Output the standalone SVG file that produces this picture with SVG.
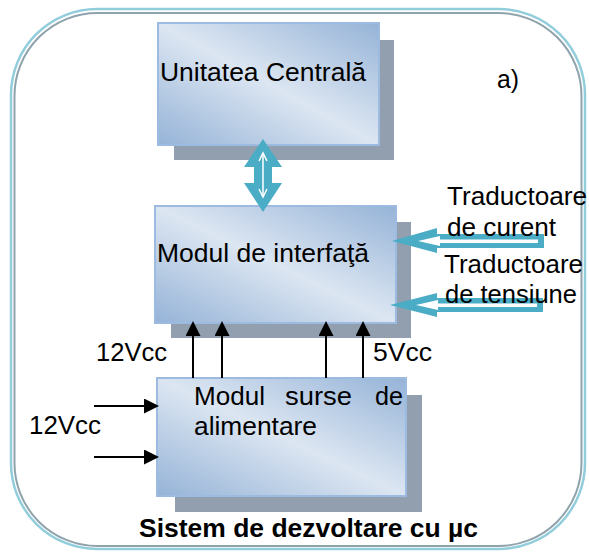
<svg xmlns="http://www.w3.org/2000/svg" width="589" height="552" viewBox="0 0 589 552">
<defs>
<linearGradient id="boxg" x1="0" y1="1" x2="1" y2="0">
<stop offset="0" stop-color="#95b3d7"/>
<stop offset="0.5" stop-color="#dce6f2"/>
<stop offset="1" stop-color="#95b3d7"/>
</linearGradient>
<marker id="ah" markerUnits="userSpaceOnUse" markerWidth="15" markerHeight="15" viewBox="0 0 15 15" refX="13" refY="7.5" orient="auto">
<path d="M0,0 L15,7.5 L0,15 z" fill="#000"/>
</marker>
<style>
.shadow{fill:#919fae}
.box{fill:url(#boxg);stroke:#9dbbe0;stroke-width:2}
.t{font-family:"Liberation Sans",Arial,sans-serif;font-size:25.5px;fill:#000}
.b{font-weight:bold}
.wire{stroke:#000;stroke-width:2;fill:none;marker-end:url(#ah)}
.blue{fill:#4bacc6}
.white{fill:#fff}
</style>
</defs>
<rect x="0" y="0" width="589" height="552" fill="#fff"/>
<g id="frame" fill="none">
<rect x="11" y="9" width="574" height="540" rx="86" ry="86" stroke="#92cddc" stroke-width="2.5"/>
<rect x="14.5" y="13" width="567" height="533" rx="83" ry="83" stroke="#8fa3ad" stroke-width="2"/>
</g>
<g id="unitatea">
<rect class="shadow" x="174" y="40" width="220" height="120"/>
<rect class="box" x="158" y="23" width="221" height="122"/>
<text class="t" x="160" y="81" textLength="206" lengthAdjust="spacingAndGlyphs">Unitatea Centrală</text>
</g>
<g id="interfata">
<rect class="shadow" x="171" y="222" width="240" height="116"/>
<rect class="box" x="155" y="206" width="241" height="117"/>
<text class="t" x="157" y="262" textLength="212" lengthAdjust="spacingAndGlyphs">Modul de interfaţă</text>
</g>
<g id="surse">
<rect class="shadow" x="175" y="395" width="247" height="117"/>
<rect class="box" x="157" y="378" width="249" height="118"/>
<text class="t" y="405"><tspan x="194" textLength="71" lengthAdjust="spacingAndGlyphs">Modul</tspan><tspan x="285" textLength="67" lengthAdjust="spacingAndGlyphs">surse</tspan><tspan x="375" textLength="28" lengthAdjust="spacingAndGlyphs">de</tspan></text>
<text class="t" x="194" y="435" textLength="123" lengthAdjust="spacingAndGlyphs">alimentare</text>
</g>
<g id="connectors">
<g id="bus">
<polygon class="blue" points="263,139 282,167 272,167 272,183 282,183 263,212 244,183 254,183 254,167 244,167"/>
<line x1="263" y1="154" x2="263" y2="196" stroke="#fff" stroke-width="1.5"/>
<polyline points="259,161 263,153 267,161" fill="none" stroke="#fff" stroke-width="1.5"/>
<polyline points="259,189 263,197 267,189" fill="none" stroke="#fff" stroke-width="1.5"/>
</g>
<g id="curent-arrow">
<polygon class="blue" points="392,241 437,228 437,234 544,234 544,248 437,248 437,253"/>
<polygon class="white" points="418,241 440,236 440,239.5 538,239.5 538,243 440,243 440,246"/>
</g>
<g id="tensiune-arrow">
<polygon class="blue" points="390,305 437,293 437,298 543,298 543,312 437,312 437,317"/>
<polygon class="white" points="416,305 438,300 438,303.5 537,303.5 537,307 438,307 438,310"/>
</g>
<line class="wire" x1="193" y1="378" x2="193" y2="323"/>
<line class="wire" x1="222" y1="378" x2="222" y2="323"/>
<line class="wire" x1="326" y1="378" x2="326" y2="323"/>
<line class="wire" x1="363" y1="378" x2="363" y2="323"/>
<line class="wire" x1="94" y1="406" x2="157" y2="406"/>
<line class="wire" x1="94" y1="457" x2="157" y2="457"/>
</g>
<g id="labels">
<text class="t" x="497" y="88" textLength="22" lengthAdjust="spacingAndGlyphs">a)</text>
<text class="t" x="447" y="205" textLength="140" lengthAdjust="spacingAndGlyphs">Traductoare</text>
<text class="t" x="447" y="236" textLength="109" lengthAdjust="spacingAndGlyphs">de curent</text>
<text class="t" x="444" y="273" textLength="139" lengthAdjust="spacingAndGlyphs">Traductoare</text>
<text class="t" x="445" y="303" textLength="132" lengthAdjust="spacingAndGlyphs">de tensiune</text>
<text class="t" x="96" y="361" textLength="71" lengthAdjust="spacingAndGlyphs">12Vcc</text>
<text class="t" x="373" y="361" textLength="59" lengthAdjust="spacingAndGlyphs">5Vcc</text>
<text class="t" x="29" y="434" textLength="72" lengthAdjust="spacingAndGlyphs">12Vcc</text>
<text class="t b" x="139" y="537" textLength="339" lengthAdjust="spacingAndGlyphs">Sistem de dezvoltare cu µc</text>
</g>
</svg>
